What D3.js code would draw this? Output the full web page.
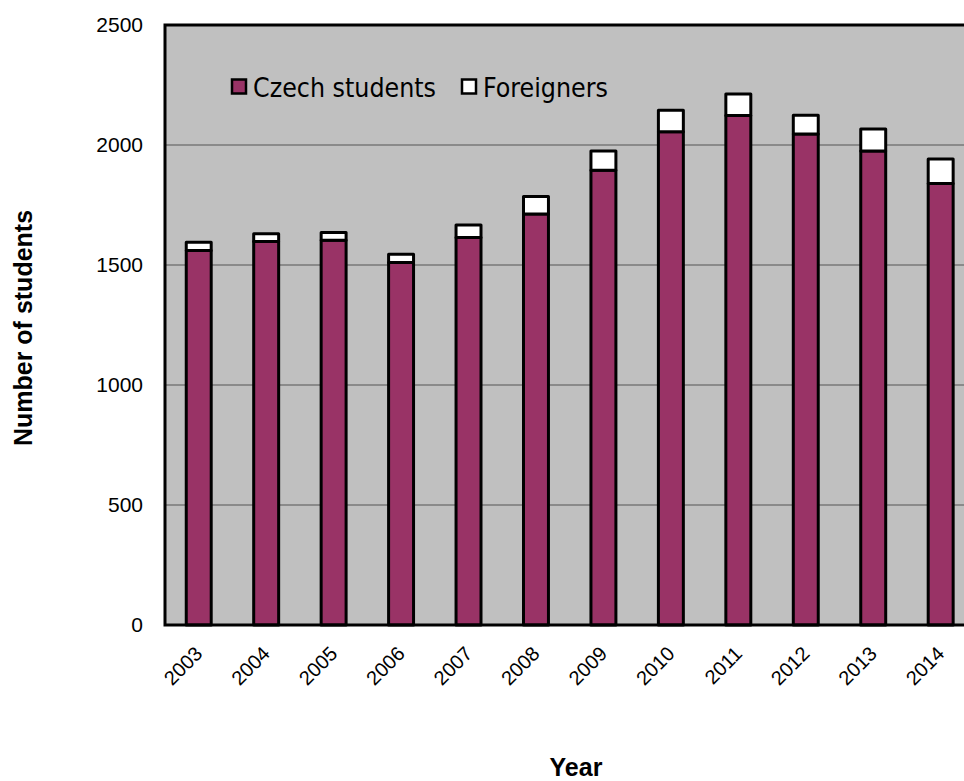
<!DOCTYPE html>
<html>
<head>
<meta charset="utf-8">
<script src="https://cdn.jsdelivr.net/npm/d3@7"></script>
<style>
  html, body { margin: 0; padding: 0; background: #fff; }
  svg { display: block; }
</style>
</head>
<body>
<svg id="chart" width="964" height="781"></svg>
<script>
// Students per year, split into Czech students and foreigners
const years = ["2003","2004","2005","2006","2007","2008","2009","2010","2011","2012","2013","2014"];
const czechStudents = [1560, 1598, 1603, 1510, 1615, 1713, 1895, 2055, 2123, 2046, 1975, 1840];
const foreigners    = [  35,   32,   32,   35,   52,   72,   80,   90,   89,   78,   92,  102];
const yTicks = [0, 500, 1000, 1500, 2000, 2500];
const seriesNames = ["Czech students", "Foreigners"];
const seriesColors = ["#993366", "#ffffff"];

const svg = d3.select("#chart");
const plot = { left: 165, top: 25, bottom: 625, step: 67.45 };
plot.right = plot.left + plot.step * years.length;

const x = d3.scaleBand()
  .domain(years)
  .range([plot.left, plot.right])
  .paddingInner(0.63)
  .paddingOuter(0.315);

const y = d3.scaleLinear().domain([0, 2500]).range([plot.bottom, plot.top]);

// Plot background
svg.append("rect")
  .attr("x", plot.left).attr("y", plot.top)
  .attr("width", plot.right - plot.left).attr("height", plot.bottom - plot.top)
  .attr("fill", "#c0c0c0");

// Horizontal gridlines
svg.append("g")
  .selectAll("line")
  .data(yTicks.filter(t => t > 0 && t < 2500))
  .join("line")
  .attr("x1", plot.left).attr("x2", plot.right)
  .attr("y1", d => y(d)).attr("y2", d => y(d))
  .attr("stroke", "#555").attr("stroke-width", 1);

// Stacked series
const stackData = years.map((yr, i) => ({ year: yr, czech: czechStudents[i], foreign: foreigners[i] }));
const stacked = d3.stack().keys(["czech", "foreign"])(stackData);

svg.append("g")
  .selectAll("g")
  .data(stacked)
  .join("g")
  .attr("fill", (d, i) => seriesColors[i])
  .selectAll("rect")
  .data(d => d)
  .join("rect")
  .attr("x", d => x(d.data.year))
  .attr("width", x.bandwidth())
  .attr("y", d => y(d[1]))
  .attr("height", d => y(d[0]) - y(d[1]))
  .attr("stroke", "#000")
  .attr("stroke-width", 3)
  .attr("stroke-linejoin", "round");

// Plot frame: top, left, bottom
svg.append("path")
  .attr("d", `M${plot.right},${plot.top}H${plot.left}V${plot.bottom}H${plot.right}`)
  .attr("fill", "none").attr("stroke", "#000").attr("stroke-width", 3);

// Y axis labels
const yAxis = d3.axisLeft(y).tickValues(yTicks).tickFormat(d3.format("d")).tickSize(0).tickPadding(22);
const gy = svg.append("g").attr("transform", `translate(${plot.left},0)`).call(yAxis);
gy.select(".domain").remove();
gy.selectAll("text")
  .style("font-family", "Liberation Sans, Arial, sans-serif")
  .style("font-size", "21px").attr("fill", "#000");

// X axis labels, rotated
const xAxis = d3.axisBottom(x).tickSize(0).tickPadding(0);
const gx = svg.append("g").attr("transform", `translate(0,${plot.bottom})`).call(xAxis);
gx.select(".domain").remove();
gx.selectAll("text")
  .style("font-family", "Liberation Sans, Arial, sans-serif")
  .style("font-size", "20px").attr("fill", "#000")
  .attr("text-anchor", "end")
  .attr("dy", null).attr("y", 0)
  .attr("transform", "translate(5,30) rotate(-45)");

// Axis titles
svg.append("text")
  .attr("x", 576).attr("y", 776)
  .attr("text-anchor", "middle")
  .style("font-family", "Liberation Sans, Arial, sans-serif")
  .style("font-weight", "bold").style("font-size", "25px")
  .text("Year");

svg.append("text")
  .attr("transform", "translate(32,328) rotate(-90)")
  .attr("text-anchor", "middle")
  .style("font-family", "Liberation Sans, Arial, sans-serif")
  .style("font-weight", "bold").style("font-size", "25px")
  .text("Number of students");

// Legend
const legendX = [232, 462];
const legend = svg.append("g")
  .selectAll("g")
  .data(seriesNames)
  .join("g")
  .attr("transform", (d, i) => `translate(${legendX[i]},79.5)`);
legend.append("rect")
  .attr("width", 14).attr("height", 14)
  .attr("fill", (d, i) => seriesColors[i])
  .attr("stroke", "#000").attr("stroke-width", 2.5);
legend.append("text")
  .attr("x", 21).attr("y", 17.5)
  .style("font-family", "DejaVu Sans Condensed, DejaVu Sans, sans-serif")
  .style("font-size", "27px").attr("fill", "#000")
  .attr("textLength", (d, i) => i === 0 ? 183 : 125)
  .attr("lengthAdjust", "spacingAndGlyphs")
  .text(d => d);
</script>
</body>
</html>
